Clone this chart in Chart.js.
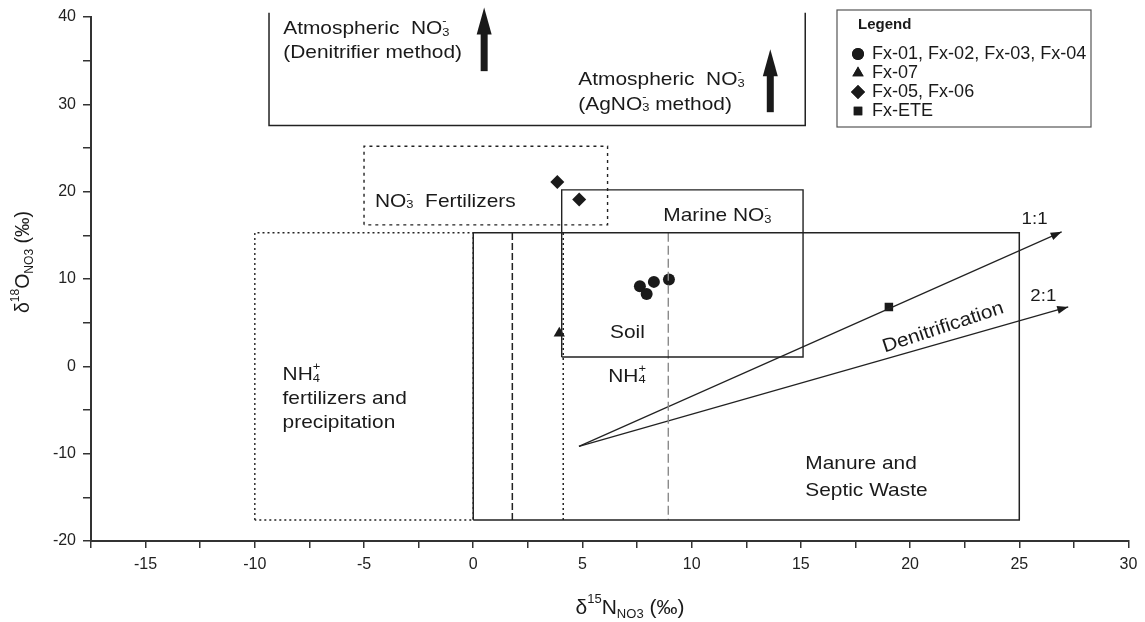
<!DOCTYPE html>
<html>
<head>
<meta charset="utf-8">
<script src="https://cdn.jsdelivr.net/npm/chart.js@4.4.1/dist/chart.umd.min.js"></script>
<style>
  body { margin: 0; background: #fff; }
  #wrap { width: 1145px; height: 622px; position: relative; }
</style>
</head>
<body>
<div id="wrap"><canvas id="isoChart"></canvas></div>
<script>
// samples (d15N, d18O)
const circleX = [7.63, 7.94, 8.27, 8.96];
const circleY = [9.16, 8.29, 9.67, 9.93];
const triangleX = [3.94];
const triangleY = [3.8];
const diamondX = [3.85, 4.85];
const diamondY = [21.1, 19.1];
const squareX = [19.03];
const squareY = [6.8];
const legendLabels = ['Fx-01, Fx-02, Fx-03, Fx-04', 'Fx-07', 'Fx-05, Fx-06', 'Fx-ETE'];

// source fields [xmin, xmax, ymin, ymax]
const atmosBox = [-9.35, 15.2, 27.57, 40.5];
const fertNO3Box = [-5, 6.15, 16.2, 25.2];
const marineBox = [4.05, 15.1, 1.07, 20.2];
const nh4FertBox = [-10, 0, -17.6, 15.3];
const manureBox = [0, 25, -17.6, 15.3];
const soilBox = [1.79, 8.93, -17.6, 15.3];
const soilDotX = 4.12;

// denitrification vectors
const denitOrigin = [4.84, -9.16];
const ratio11End = [26.94, 15.4];
const ratio21End = [27.24, 6.8];

// atmospheric arrows
const atmArrowX = [0.5, 13.6];
const atmArrowBase = [33.8, 29.1];
const atmArrowTip = [41.1, 36.3];

const xTicks = { min: -17.5, max: 30, step: 2.5 };
const yTicks = { min: -20, max: 40, step: 5 };

const pts = (xs, ys) => xs.map((v, i) => ({ x: v, y: ys[i] }));
const rect = b => [{x:b[0],y:b[2]},{x:b[0],y:b[3]},{x:b[1],y:b[3]},{x:b[1],y:b[2]},{x:b[0],y:b[2]}];

function lineSet(data, opts) {
  return Object.assign({
    type: 'line', data, showLine: true, pointRadius: 0, borderColor: '#222',
    borderWidth: 1.4, fill: false, tension: 0, clip: false
  }, opts);
}

const INK = '#1a1a1a';
const FONT = '"Liberation Sans", Arial, sans-serif';

// text with sub/superscripts, slightly widened like the source figure
function rich(ctx, segs, x, y, size, align, stretch) {
  const sx = stretch || 1.1;
  const small = size * 0.62;
  const widths = segs.map(s => {
    if (typeof s === 'string') { ctx.font = size + 'px ' + FONT; return ctx.measureText(s).width; }
    ctx.font = small + 'px ' + FONT;
    return Math.max(ctx.measureText(s.sub || '').width, ctx.measureText(s.sup || '').width);
  });
  const w = widths.reduce((a, b) => a + b, 0);
  ctx.save();
  ctx.translate(align === 'center' ? x - w * sx / 2 : x, y);
  ctx.scale(sx, 1);
  let cx = 0;
  ctx.textAlign = 'left';
  ctx.textBaseline = 'middle';
  segs.forEach((s, i) => {
    if (typeof s === 'string') {
      ctx.font = size + 'px ' + FONT;
      ctx.fillText(s, cx, 0);
    } else {
      ctx.font = small + 'px ' + FONT;
      if (s.sub) ctx.fillText(s.sub, cx, size * (s.low || 0.2));
      if (s.sup) ctx.fillText(s.sup, cx, -size * 0.42);
    }
    cx += widths[i];
  });
  ctx.restore();
}

const NO3 = ['NO', { sub: '3', sup: '-' }];
const NH4 = ['NH', { sub: '4', sup: '+' }];

const annot = {
  id: 'annot',
  afterDatasetsDraw(chart) {
    const { ctx, scales: { x, y } } = chart;
    const px = v => x.getPixelForValue(v), py = v => y.getPixelForValue(v);
    ctx.save();
    ctx.fillStyle = INK;

    // arrowheads on 1:1 and 2:1
    [ratio11End, ratio21End].forEach(e => {
      const x1 = px(e[0]), y1 = py(e[1]);
      const a = Math.atan2(y1 - py(denitOrigin[1]), x1 - px(denitOrigin[0]));
      ctx.save();
      ctx.translate(x1, y1);
      ctx.rotate(a);
      ctx.beginPath();
      ctx.moveTo(0, 0); ctx.lineTo(-11, -4); ctx.lineTo(-11, 4); ctx.closePath();
      ctx.fill();
      ctx.restore();
    });

    // thick atmospheric arrows
    atmArrowX.forEach((v, i) => {
      const cx = px(v), yb = py(atmArrowBase[i]), yt = py(atmArrowTip[i]);
      const head = 27;
      ctx.fillRect(cx - 3.5, yt + head - 1, 7, yb - (yt + head - 1));
      ctx.beginPath();
      ctx.moveTo(cx, yt); ctx.lineTo(cx - 7.5, yt + head); ctx.lineTo(cx + 7.5, yt + head);
      ctx.closePath();
      ctx.fill();
    });

    // field labels
    const F = 19;
    rich(ctx, ['Atmospheric  ', ...NO3], px(-8.7), py(38.6), F);
    rich(ctx, ['(Denitrifier method)'], px(-8.7), py(35.9), F);
    rich(ctx, ['Atmospheric  ', ...NO3], px(4.81), py(32.8), F);
    rich(ctx, ['(AgNO', { sub: '3', sup: '-' }, ' method)'], px(4.81), py(30.0), F);
    rich(ctx, [...NO3, '  Fertilizers'], px(-4.5), py(18.9), F);
    rich(ctx, ['Marine ', ...NO3], px(8.7), py(17.25), F);
    rich(ctx, ['Soil'], px(6.26), py(3.9), F);
    rich(ctx, NH4, px(6.18), py(-1.15), F);
    rich(ctx, NH4, px(-8.73), py(-0.95), F);
    rich(ctx, ['fertilizers and'], px(-8.73), py(-3.7), F);
    rich(ctx, ['precipitation'], px(-8.73), py(-6.45), F);
    rich(ctx, ['Manure and'], px(15.2), py(-11.2), F);
    rich(ctx, ['Septic Waste'], px(15.2), py(-14.2), F);
    rich(ctx, ['1:1'], px(25.7), py(16.8), 17, 'center');
    rich(ctx, ['2:1'], px(26.1), py(8.0), 17, 'center');

    ctx.save();
    ctx.translate(px(21.51), py(4.43));
    ctx.rotate(-18.4 * Math.PI / 180);
    rich(ctx, ['Denitrification'], 0, 0, 19, 'center');
    ctx.restore();

    // legend
    ctx.strokeStyle = '#555';
    ctx.lineWidth = 1.2;
    ctx.strokeRect(837, 10, 254, 117);
    ctx.font = 'bold 15px ' + FONT;
    ctx.textBaseline = 'middle';
    ctx.textAlign = 'left';
    ctx.fillText('Legend', 858, 25);
    const rows = [54, 73, 92, 111];
    const styles = ['circle', 'triangle', 'rectRot', 'rect'];
    const sizes = [6, 6.5, 7, 6];
    rows.forEach((ry, i) => {
      Chart.helpers.drawPoint(ctx, { pointStyle: styles[i], radius: sizes[i], borderWidth: 0 }, 858, ry);
      ctx.fill();
      rich(ctx, [legendLabels[i]], 872, ry, 17.5, 'left', 1.03);
    });

    // axis titles
    rich(ctx, ['\u03B4', { sup: '15' }, 'N', { sub: 'NO3', low: 0.3 }, ' (\u2030)'], 630, 608, 21, 'center', 1);
    ctx.save();
    ctx.translate(24, 262);
    ctx.rotate(-Math.PI / 2);
    rich(ctx, ['\u03B4', { sup: '18' }, 'O', { sub: 'NO3', low: 0.3 }, ' (\u2030)'], 0, 0, 19.5, 'center', 1);
    ctx.restore();

    ctx.restore();
  }
};

const markerBase = { backgroundColor: INK, borderColor: INK, borderWidth: 0, showLine: false };

new Chart(document.getElementById('isoChart'), {
  type: 'scatter',
  data: {
    datasets: [
      lineSet([{x:atmosBox[0],y:atmosBox[3]},{x:atmosBox[0],y:atmosBox[2]},{x:atmosBox[1],y:atmosBox[2]},{x:atmosBox[1],y:atmosBox[3]}], { borderWidth: 1.5 }),
      lineSet(rect(fertNO3Box), { borderDash: [3, 4], borderWidth: 1.4 }),
      lineSet(rect(nh4FertBox), { borderDash: [2, 3], borderWidth: 1.4 }),
      lineSet(rect(marineBox), { borderWidth: 1.4 }),
      lineSet(rect(manureBox), { borderWidth: 1.5 }),
      lineSet([{x:soilBox[0],y:soilBox[2]},{x:soilBox[0],y:soilBox[3]}], { borderDash: [7, 3], borderWidth: 1.5 }),
      lineSet([{x:soilBox[1],y:soilBox[3]},{x:soilBox[1],y:soilBox[2]}], { borderDash: [9, 4], borderWidth: 1.4, borderColor: '#8a8a8a' }),
      lineSet([{x:soilDotX,y:soilBox[2]},{x:soilDotX,y:soilBox[3]}], { borderDash: [2, 3], borderWidth: 1.5 }),
      lineSet([{x:denitOrigin[0],y:denitOrigin[1]},{x:ratio11End[0],y:ratio11End[1]}], { borderWidth: 1.2 }),
      lineSet([{x:denitOrigin[0],y:denitOrigin[1]},{x:ratio21End[0],y:ratio21End[1]}], { borderWidth: 1.2 }),
      Object.assign({ label: legendLabels[0], data: pts(circleX, circleY), pointStyle: 'circle', pointRadius: 6 }, markerBase),
      Object.assign({ label: legendLabels[1], data: pts(triangleX, triangleY), pointStyle: 'triangle', pointRadius: 6.5 }, markerBase),
      Object.assign({ label: legendLabels[2], data: pts(diamondX, diamondY), pointStyle: 'rectRot', pointRadius: 7 }, markerBase),
      Object.assign({ label: legendLabels[3], data: pts(squareX, squareY), pointStyle: 'rect', pointRadius: 6 }, markerBase)
    ]
  },
  options: {
    responsive: true,
    maintainAspectRatio: false,
    animation: false,
    layout: { padding: { left: 0, top: 17, right: 16.5, bottom: 0 } },
    plugins: { legend: { display: false }, tooltip: { enabled: false } },
    scales: {
      x: {
        type: 'linear', min: xTicks.min, max: xTicks.max,
        afterFit: s => { s.height = 81; },
        ticks: {
          stepSize: xTicks.step, autoSkip: false, maxRotation: 0, padding: 7,
          color: '#222', font: { size: 16, family: FONT },
          callback: v => (v % 5 === 0 ? v : '')
        },
        grid: { drawOnChartArea: false, tickLength: 7, color: '#333', lineWidth: 1.5 },
        border: { color: '#333', width: 2 }
      },
      y: {
        type: 'linear', min: yTicks.min, max: yTicks.max,
        afterFit: s => { s.width = 91; },
        ticks: {
          stepSize: yTicks.step, autoSkip: false, padding: 7,
          color: '#222', font: { size: 16, family: FONT },
          callback: v => (v % 10 === 0 ? v : '')
        },
        grid: { drawOnChartArea: false, tickLength: 8, color: '#333', lineWidth: 1.5 },
        border: { color: '#333', width: 2 }
      }
    }
  },
  plugins: [annot]
});
</script>
</body>
</html>
